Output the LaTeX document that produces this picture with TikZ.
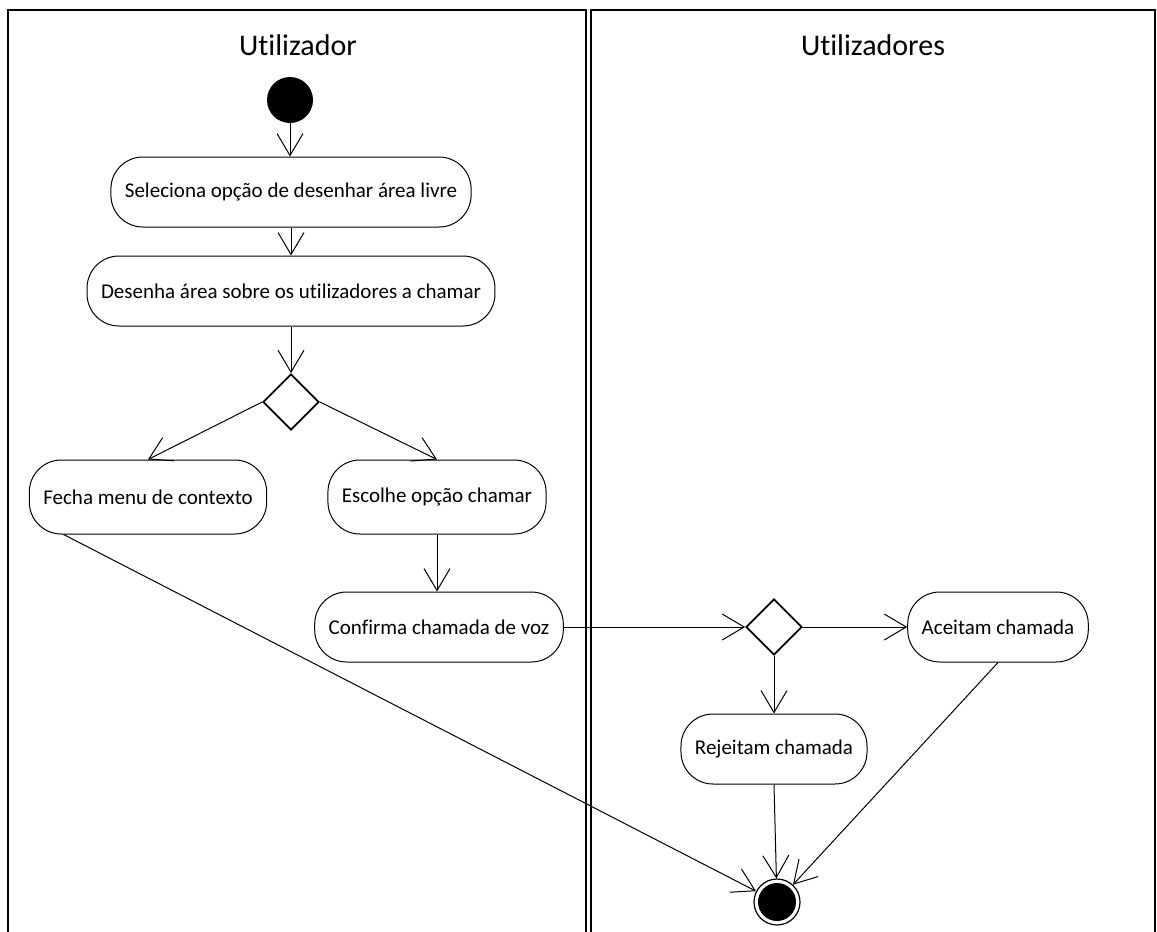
\documentclass[tikz,border=0pt]{standalone}
\usepackage{fontspec}
\setmainfont{Carlito}[Ligatures={NoCommon,NoRare}]
\usetikzlibrary{arrows.meta,shapes.geometric,calc}

\tikzset{
  lane/.style={line width=1.8pt},
  lanetitle/.style={font=\fontsize{30}{34}\selectfont},
  action/.style={draw, line width=1pt, rectangle, rounded corners=32pt,
    minimum height=70pt, inner xsep=14pt, font=\fontsize{21}{24}\selectfont},
  decision/.style={draw, line width=1.7pt, diamond, aspect=1,
    minimum width=56pt, minimum height=56pt, inner sep=0pt},
  startnode/.style={circle, fill=black, minimum size=46pt, inner sep=0pt},
  endnode/.style={circle, draw, line width=1.2pt, minimum size=46pt, inner sep=0pt,
    path picture={\fill (path picture bounding box.center) circle (19pt);}},
  flow/.style={line width=1pt, -{Straight Barb[length=22pt,width=26pt]}}
}

\begin{document}
\begin{tikzpicture}[x=1pt,y=-1pt]
  \useasboundingbox (0,0) rectangle (1157,932);

  % swimlanes, open at the bottom
  \draw[lane] (8,934) -- (8,10) -- (586,10) -- (586,934);
  \draw[lane] (591,934) -- (591,10) -- (1155,10) -- (1155,934);
  \node[lanetitle] (t1) at (298,45) {Utilizador};
  \node[lanetitle] (t2) at (873,45) {Utilizadores};

  % activity nodes
  \node[startnode] (start) at (290,100) {};
  \node[action] (a1) at (291,192) {Seleciona opção de desenhar área livre};
  \node[action] (a2) at (291,291) {Desenha área sobre os utilizadores a chamar};
  \node[decision] (d1) at (291,402) {};
  \node[action, minimum height=74pt] (fecha) at (148,497) {Fecha menu de contexto};
  \node[action, minimum height=74pt] (escolhe) at (437,497) {Escolhe opção chamar};
  \node[action] (confirma) at (439,627) {Confirma chamada de voz};
  \node[decision] (d2) at (774,627) {};
  \node[action] (aceitam) at (998,627) {Aceitam chamada};
  \node[action] (rejeitam) at (774,749) {Rejeitam chamada};
  \node[endnode] (end) at (777,902) {};

  \coordinate (fechaout) at ($(fecha.south west)!0.146!(fecha.south east)$);

  % control flow
  \draw[flow] (start) -- (start |- a1.north);
  \draw[flow] (a1) -- (a2);
  \draw[flow] (a2) -- (d1);
  \draw[flow] (d1.west) -- (fecha.north);
  \draw[flow] (d1.east) -- (escolhe.north);
  \draw[flow] (escolhe.south) -- (escolhe.south |- confirma.north);
  \draw[flow] (confirma.east) -- (d2.west);
  \draw[flow] (d2.east) -- (aceitam.west);
  \draw[flow] (d2.south) -- (rejeitam.north);
  \draw[flow] (rejeitam.south) -- (end);
  \draw[flow] (fechaout) -- (end);
  \draw[flow] (aceitam.south) -- (end);
\end{tikzpicture}
\end{document}
